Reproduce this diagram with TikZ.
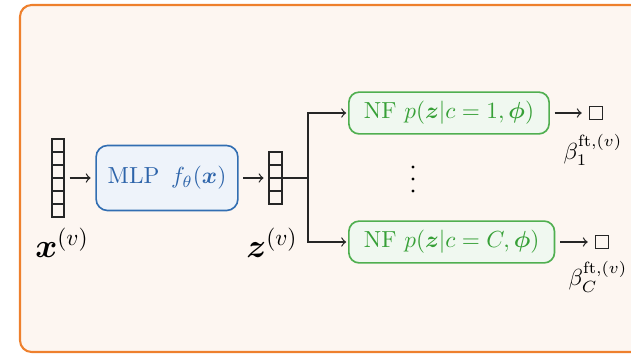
\documentclass[tikz,border=0pt]{standalone}
\usepackage{amsmath,bm}
\usetikzlibrary{calc}
\definecolor{frameor}{RGB}{238,128,45}
\definecolor{framebg}{RGB}{253,246,241}
\definecolor{mlpbd}{RGB}{50,110,178}
\definecolor{mlpbg}{RGB}{238,243,250}
\definecolor{mlptx}{RGB}{45,100,170}
\definecolor{nfbd}{RGB}{80,175,80}
\definecolor{nfbg}{RGB}{240,248,240}
\definecolor{nftx}{RGB}{55,160,55}
\tikzset{
  vecbox/.style={draw=black!85, line width=0.7pt, minimum width=5.3pt, inner sep=0pt,
    path picture={\foreach \i in {1,...,#1}{
      \draw[black!85, line width=0.7pt] ($(path picture bounding box.north west)!\i/#1!(path picture bounding box.south west)$) -- ($(path picture bounding box.north east)!\i/#1!(path picture bounding box.south east)$);}}},
  mlpbox/.style={draw=mlpbd, fill=mlpbg, line width=0.7pt, rounded corners=5pt, text=mlptx,
    minimum width=61pt, minimum height=28pt, inner sep=2pt},
  nfbox/.style={draw=nfbd, fill=nfbg, line width=0.7pt, rounded corners=4.5pt, text=nftx,
    minimum height=18pt, inner xsep=6.5pt},
  outsq/.style={draw=black!85, line width=0.7pt, minimum size=5.6pt, inner sep=0pt},
  dotn/.style={circle, fill=black, inner sep=0pt, minimum size=1.4pt},
  arr/.style={->, line width=0.55pt, black!85},
  conn/.style={line width=0.55pt, black!85},
}
\begin{document}
\begin{tikzpicture}[x=0.43pt, y=-0.43pt]
\useasboundingbox (0,0) rectangle (631,353);
\clip (0,0) rectangle (631,353);
\draw[frameor, fill=framebg, line width=0.9pt, rounded corners=5pt] (20,5) rectangle (642,352);

\node[vecbox=6, minimum height=33.5pt] (xvec) at (58,178) {};
\node[mlpbox] (mlp) at (167,178) {MLP\enspace$f_\theta(\bm x)$};
\node[vecbox=4, minimum height=22.4pt, minimum width=5.6pt] (zvec) at (275.5,178) {};
\coordinate (br) at (308,178);
\node[nfbox, anchor=west] (nf1) at (348,113) {NF $p(\bm z|c=1,\bm\phi)$};
\node[nfbox, anchor=west] (nf2) at (348,242) {NF $p(\bm z|c=C,\bm\phi)$};
\node[outsq] (sq1) at (596,113) {};
\node[outsq] (sq2) at (602,242) {};
\node[dotn] (d1) at (413,167) {};
\node[dotn] (d2) at (413,179) {};
\node[dotn] (d3) at (413,191) {};

\node (xl) at (62,243) {\Large$\bm x^{(v)}$};
\node (zl) at (272,243) {\Large$\bm z^{(v)}$};
\node (b1) at (593,150) {$\beta_1^{\mathrm{ft},(v)}$};
\node (bC) at (598,277) {$\beta_C^{\mathrm{ft},(v)}$};

\draw[arr, shorten <=2pt, shorten >=2pt] (xvec) -- (mlp);
\draw[arr, shorten <=2pt, shorten >=2pt] (mlp) -- (zvec);
\draw[conn] (zvec.east) -- (br);
\draw[arr, shorten >=0.8pt] (br) |- (nf1.west);
\draw[arr, shorten >=0.8pt] (br) |- (nf2.west);
\draw[arr, shorten <=2pt, shorten >=3pt] (nf1) -- (sq1);
\draw[arr, shorten <=2pt, shorten >=3pt] (nf2) -- (sq2);
\end{tikzpicture}
\end{document}
